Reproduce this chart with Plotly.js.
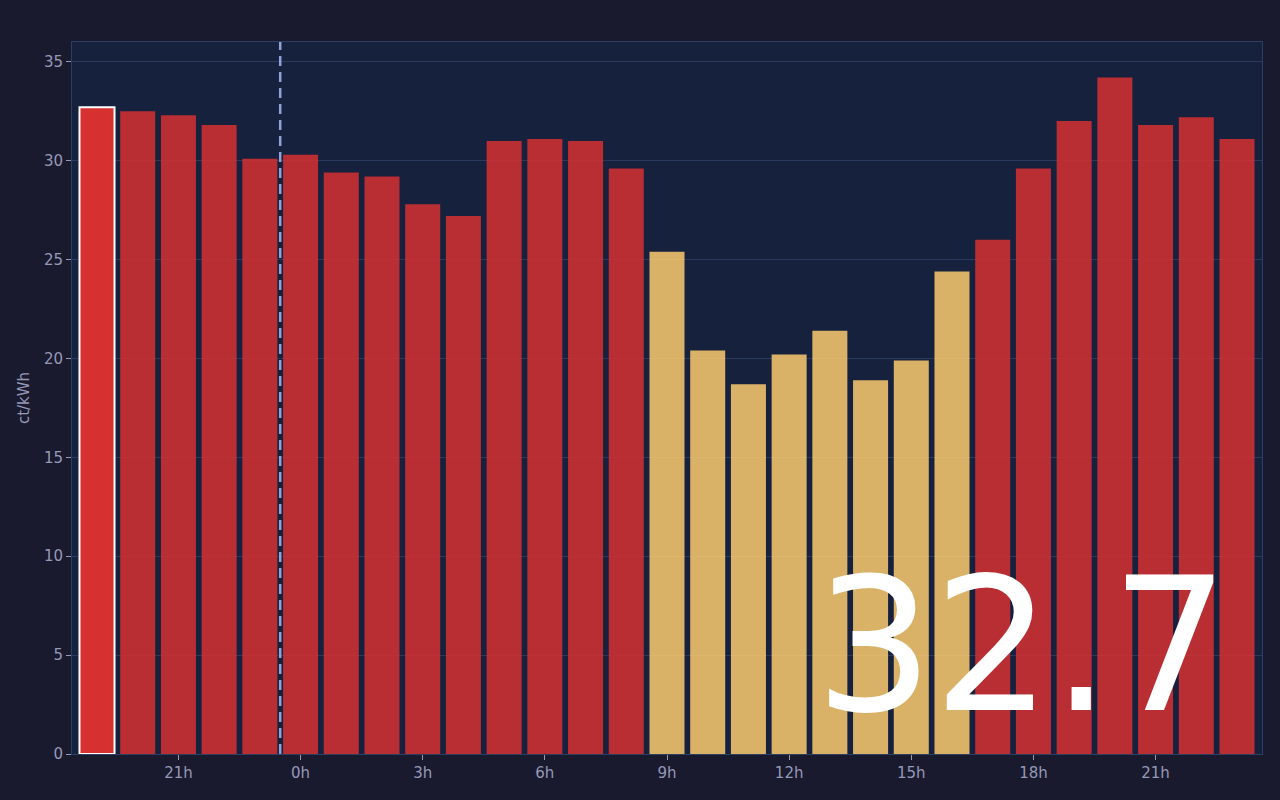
<!DOCTYPE html>
<html>
<head>
<meta charset="utf-8">
<script src="https://cdn.plot.ly/plotly-3.0.1.min.js"></script>
<style>
  html, body { margin: 0; padding: 0; background: #1a1a2e; }
  #chart { width: 1280px; height: 800px; }
</style>
</head>
<body>
<div id="chart"></div>
<script>
// Stundirnar frá 19h í dag til 23h á morgun
const hours = [19, 20, 21, 22, 23, 0, 1, 2, 3, 4, 5, 6, 7, 8, 9, 10, 11, 12, 13, 14, 15, 16, 17, 18, 19, 20, 21, 22, 23];
const prices = [32.7, 32.5, 32.3, 31.8, 30.1, 30.3, 29.4, 29.2, 27.8, 27.2, 31.0, 31.1, 31.0, 29.6,
                25.4, 20.4, 18.7, 20.2, 21.4, 18.9, 19.9, 24.4, 26.0, 29.6, 32.0, 34.2, 31.8, 32.2, 31.1];
const currentIndex = 0;
const cheapLimit = 25.5;
const midnightIndex = hours.indexOf(0);

const red = '#d63031';
const yellow = '#fdcb6e';

const x = prices.map((p, i) => i);
const colors = prices.map(p => p < cheapLimit ? yellow : red);
const opacities = prices.map((p, i) => i === currentIndex ? 1 : 0.85);
const lineWidths = prices.map((p, i) => i === currentIndex ? 2 : 0);

const tickvals = [];
const ticktext = [];
hours.forEach((h, i) => {
  if (h % 3 === 0) {
    tickvals.push(i);
    ticktext.push(h + 'h');
  }
});

const trace = {
  type: 'bar',
  x: x,
  y: prices,
  marker: {
    color: colors,
    opacity: opacities,
    line: { color: '#ffffff', width: lineWidths }
  },
  hoverinfo: 'y'
};

const textColor = '#9698b8';
const tickFont = { family: 'DejaVu Sans', size: 15, color: textColor };

const layout = {
  width: 1280,
  height: 800,
  margin: { l: 72, r: 18, t: 42, b: 46 },
  paper_bgcolor: '#1a1a2e',
  plot_bgcolor: '#16213e',
  showlegend: false,
  bargap: 0.14,
  font: { family: 'DejaVu Sans', color: textColor },
  xaxis: {
    range: [-0.614, prices.length - 1 + 0.614],
    tickmode: 'array',
    tickvals: tickvals,
    ticktext: ticktext,
    ticks: 'outside',
    ticklen: 5,
    tickcolor: textColor,
    tickfont: tickFont,
    showgrid: false,
    showline: true,
    linecolor: '#2d3e63',
    mirror: true,
    zeroline: false
  },
  yaxis: {
    range: [0, 36],
    dtick: 5,
    ticks: 'outside',
    ticklen: 5,
    tickcolor: textColor,
    tickfont: tickFont,
    gridcolor: '#2a3a5e',
    showline: true,
    linecolor: '#2d3e63',
    mirror: true,
    zeroline: false,
    title: { text: 'ct/kWh', font: { family: 'DejaVu Sans', size: 15, color: textColor }, standoff: 10 }
  },
  shapes: [{
    type: 'line',
    xref: 'x',
    yref: 'paper',
    x0: midnightIndex - 0.5,
    x1: midnightIndex - 0.5,
    y0: 0,
    y1: 1,
    line: { color: '#8fa3d9', width: 2.5, dash: '10px,6px' }
  }],
  annotations: [{
    text: prices[currentIndex].toFixed(1),
    xref: 'paper',
    yref: 'paper',
    x: 1,
    y: 0,
    xanchor: 'right',
    yanchor: 'bottom',
    xshift: -31,
    yshift: -2,
    showarrow: false,
    font: { family: 'DejaVu Sans', size: 186, color: '#ffffff' }
  }]
};

Plotly.newPlot('chart', [trace], layout, { displayModeBar: false, staticPlot: true });
</script>
</body>
</html>
